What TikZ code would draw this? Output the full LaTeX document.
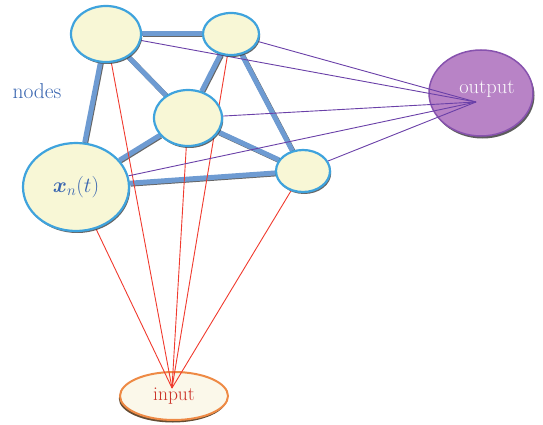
\RequirePackage{fix-cm}
\documentclass[tikz,border=0pt]{standalone}
\usepackage{amsmath}
\usepackage{amssymb}
\usepackage{bm}
\usepackage{fontspec}
\usetikzlibrary{shapes.geometric}
\usetikzlibrary{shadows}
\usetikzlibrary{backgrounds}
\definecolor{nodefill}{HTML}{F8F7D6}
\definecolor{noderim}{HTML}{3FA3DD}
\definecolor{linkblue}{HTML}{6E9BD2}
\definecolor{textblue}{HTML}{3A66B0}
\definecolor{outfill}{HTML}{B883C6}
\definecolor{outrim}{HTML}{8752AE}
\definecolor{infill}{HTML}{FBF8EA}
\definecolor{inrim}{HTML}{EE8A45}
\definecolor{redwire}{HTML}{F03A2E}
\definecolor{violetwire}{HTML}{6A40A8}
\tikzset{unit/.style = {ellipse, draw=noderim, line width=2.2pt, fill=nodefill,
                        drop shadow={shadow xshift=1.2pt, shadow yshift=-2pt,
                                     fill=black!75, opacity=0.8}},
         link/.style = {draw=linkblue, line width=5pt,
                        preaction={draw=black!60, line width=5pt,
                                   transform canvas={shift={(0.9pt,-0.9pt)}}}},
         feed/.style = {draw=redwire, line width=0.9pt},
         readout/.style = {draw=violetwire, line width=0.9pt},
         bigtext/.style = {font=\fontsize{19.5}{23}\selectfont},
         hugetext/.style = {font=\fontsize{21.5}{25}\selectfont}}

\begin{document}
\begin{tikzpicture}[x=1pt, y=-1pt]
  \useasboundingbox (0,0) rectangle (543,425);

  \node [unit, minimum width=70, minimum height=56] (n1) at (106,34) {};
  \node [unit, minimum width=56, minimum height=42] (n2) at (231,34) {};
  \node [unit, minimum width=68, minimum height=56] (n3) at (188,118) {};
  \node [unit, minimum width=106, minimum height=88, hugetext, text=textblue] (xn) at (76,187) {$\boldsymbol{x}_n(t)$};
  \node [unit, minimum width=54, minimum height=42] (n5) at (303,171) {};
  \node [hugetext, text=textblue] (lbl) at (37,91) {nodes};

  \begin{scope}[on background layer]
    \node [ellipse, draw=outrim, line width=1.5pt, fill=outfill,
           minimum width=104, minimum height=86,
           drop shadow={shadow xshift=1.5pt, shadow yshift=-2.5pt, fill=black!80, opacity=0.8},
           label={[font=\fontsize{20.5}{24}\selectfont, text=white!95!outfill,
                   xshift=6pt, yshift=4pt]center:output}]
          (out) at (481,93) {};
    \node [ellipse, draw=inrim, line width=2pt, fill=infill, bigtext, text=redwire!85!black,
           minimum width=108, minimum height=48, inner sep=0pt,
           drop shadow={shadow xshift=-1.2pt, shadow yshift=-2.5pt, fill=black!75!orange, opacity=0.8}]
          (in) at (174,396) {input};
    \coordinate (infocus) at (172,388);
    \coordinate (outfocus) at (476,102);

    \draw [link] (n1) -- (n2);
    \draw [link] (n1) -- (n3);
    \draw [link] (n1) -- (xn);
    \draw [link] (n2) -- (n3);
    \draw [link] (n2) -- (n5);
    \draw [link] (n3) -- (xn);
    \draw [link] (n3) -- (n5);
    \draw [link] (xn) -- (n5);

    \foreach \n in {xn, n1, n3, n2, n5}
      \draw [feed] (infocus) -- (\n);
    \foreach \n in {n1, n2, n3, xn, n5}
      \draw [readout] (outfocus) -- (\n);
  \end{scope}
\end{tikzpicture}
\end{document}
